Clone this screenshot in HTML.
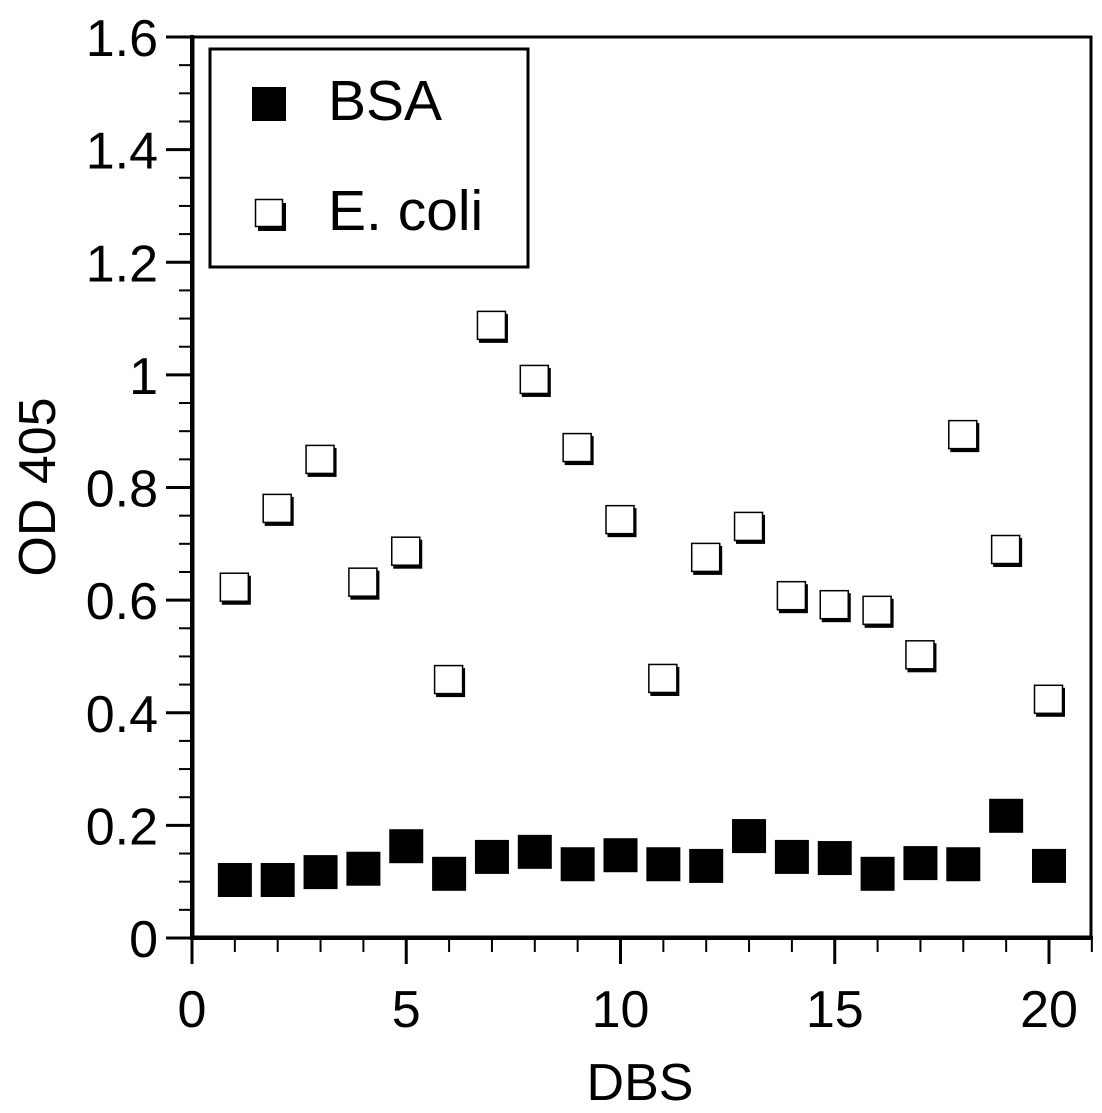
<!DOCTYPE html>
<html><head><meta charset="utf-8"><style>
html,body{margin:0;padding:0;background:#fff;}
svg{display:block;font-family:"Liberation Sans",Arial,sans-serif;}
</style></head><body>
<svg id="chart" width="1102" height="1113" viewBox="0 0 1102 1113">
<rect x="0" y="0" width="1102" height="1113" fill="#fff"/>
<g id="ticks"></g>
<g id="marks"></g>
<rect x="193" y="37" width="898" height="900" fill="none" stroke="#000" stroke-width="3"/>
<line x1="192" y1="35" x2="192" y2="940" stroke="#000" stroke-width="4"/>
<line x1="190" y1="938" x2="1093" y2="938" stroke="#000" stroke-width="4"/>
<g>
<rect x="210" y="49" width="318" height="218" fill="#fff" stroke="#000" stroke-width="3"/>
<rect x="252" y="87" width="34" height="34" fill="#000"/>
<text x="328" y="120" font-size="57">BSA</text>
<rect x="258" y="203" width="28" height="28" fill="#000"/>
<rect x="255.5" y="199.5" width="27" height="27" fill="#fff" stroke="#000" stroke-width="1.5"/>
<text x="328" y="230" font-size="57">E. coli</text>
</g>
<text x="640" y="1100" font-size="52" text-anchor="middle">DBS</text>
<text transform="translate(55,487) rotate(-90)" font-size="52" text-anchor="middle">OD 405</text>
</svg>
<script>
const dbs = [1,2,3,4,5,6,7,8,9,10,11,12,13,14,15,16,17,18,19,20];
const bsaValues = [0.103,0.103,0.117,0.123,0.163,0.114,0.144,0.153,0.131,0.147,0.131,0.128,0.181,0.144,0.142,0.114,0.133,0.131,0.217,0.128];
const ecoliValues = [0.622,0.762,0.849,0.631,0.686,0.458,1.087,0.991,0.870,0.742,0.460,0.675,0.730,0.607,0.591,0.581,0.502,0.893,0.689,0.423];
const xTickLabels = [0,5,10,15,20];
const yTickLabels = ["0","0.2","0.4","0.6","0.8","1","1.2","1.4","1.6"];

const NS = "http://www.w3.org/2000/svg";
const xScale = v => 192 + v * (1049 - 192) / 20;
const yScale = v => 938 - v * (938 - 37) / 1.6;
function mk(tag, attrs, parent) {
  const e = document.createElementNS(NS, tag);
  for (const k in attrs) e.setAttribute(k, attrs[k]);
  parent.appendChild(e);
  return e;
}
const ticks = document.getElementById('ticks');
const marks = document.getElementById('marks');
for (let i = 0; i <= 21; i++) {
  const major = i % 5 === 0;
  const x = xScale(i);
  const l = mk('line', {x1: x, y1: 938, x2: x, y2: major ? 964 : 952, stroke: '#000', 'stroke-width': major ? 3 : 2}, ticks);
  
  
}
xTickLabels.forEach(v => {
  const t = mk('text', {x: xScale(v), y: 1027, 'font-size': 52, 'text-anchor': 'middle'}, ticks);
  t.textContent = v;
  
  
});
for (let i = 0; i <= 32; i++) {
  const major = i % 4 === 0;
  const y = yScale(i * 0.05);
  const l = mk('line', {x1: major ? 166 : 179, y1: y, x2: 192, y2: y, stroke: '#000', 'stroke-width': major ? 3 : 2}, ticks);
  
  
}
yTickLabels.forEach((lab, i) => {
  const t = mk('text', {x: 158, y: yScale(i * 0.2) + 19, 'font-size': 52, 'text-anchor': 'end'}, ticks);
  t.textContent = lab;
  
  
});
dbs.forEach((d, i) => {
  const cx = xScale(d), cy = yScale(ecoliValues[i]);
  const s = mk('rect', {x: cx - 13, y: cy - 12, width: 29, height: 29, fill: '#000'}, marks);
  
  
  const r = mk('rect', {x: cx - 14.5, y: cy - 14.5, width: 28, height: 28, fill: '#fff', stroke: '#000', 'stroke-width': 1.5}, marks);
  
  
});
dbs.forEach((d, i) => {
  const cx = xScale(d), cy = yScale(bsaValues[i]);
  const r = mk('rect', {x: cx - 17, y: cy - 17, width: 34, height: 34, fill: '#000'}, marks);
  
  
});
</script>
</body></html>
